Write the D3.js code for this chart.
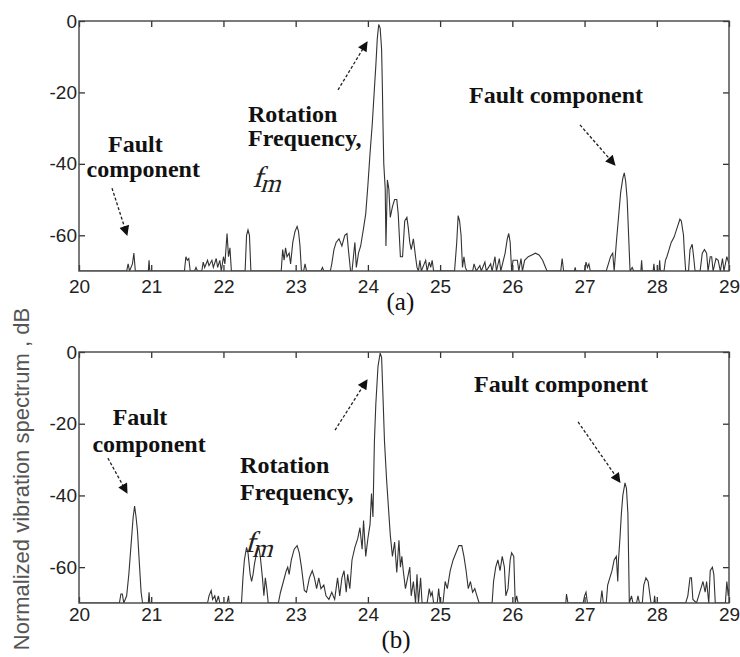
<!DOCTYPE html>
<html>
<head>
<meta charset="utf-8">
<script src="https://cdn.jsdelivr.net/npm/d3@7"></script>
<style>
  html, body { margin: 0; padding: 0; background: #fff; }
  svg { display: block; }
  .serif { font-family: "Liberation Serif", "Times New Roman", serif; }
  .sans { font-family: "Liberation Sans", Arial, sans-serif; }
</style>
</head>
<body>
<svg id="chart" width="740" height="657"></svg>
<script>
// ---------- data ----------
const xTicks = [20, 21, 22, 23, 24, 25, 26, 27, 28, 29];
const yTicks = [0, -20, -40, -60];

const freqA = [20.00,20.66,20.68,20.70,20.74,20.76,20.78,20.96,20.97,20.98,21.46,21.48,21.50,21.52,21.54,21.60,21.62,21.64,21.70,21.72,21.74,21.78,21.80,21.84,21.86,21.90,21.92,21.95,21.97,22.00,22.02,22.05,22.07,22.09,22.11,22.30,22.32,22.34,22.36,22.38,22.80,22.82,22.84,22.86,22.88,22.91,22.93,22.96,22.99,23.02,23.04,23.06,23.08,23.11,23.13,23.15,23.35,23.37,23.39,23.48,23.50,23.53,23.56,23.60,23.64,23.68,23.71,23.73,23.76,23.78,23.80,23.82,23.84,23.87,23.90,23.94,23.97,24.00,24.03,24.06,24.09,24.11,24.13,24.15,24.17,24.19,24.20,24.21,24.22,24.24,24.25,24.27,24.29,24.31,24.34,24.37,24.40,24.42,24.45,24.48,24.51,24.54,24.56,24.58,24.60,24.63,24.66,24.68,24.70,24.72,24.74,24.78,24.80,24.82,24.85,24.87,24.89,24.91,25.20,25.23,25.25,25.27,25.29,25.31,25.33,25.35,25.37,25.45,25.47,25.50,25.55,25.57,25.62,25.64,25.70,25.72,25.76,25.78,25.82,25.84,25.90,25.93,25.95,25.97,25.99,26.01,26.07,26.09,26.12,26.14,26.17,26.22,26.27,26.32,26.37,26.42,26.46,26.48,26.67,26.69,26.71,26.86,26.87,26.88,27.00,27.02,27.04,27.06,27.08,27.30,27.33,27.36,27.39,27.41,27.44,27.47,27.50,27.53,27.55,27.57,27.59,27.61,27.63,27.66,27.68,27.78,27.79,27.80,27.95,27.96,27.97,28.03,28.04,28.05,28.10,28.12,28.14,28.17,28.20,28.24,28.28,28.32,28.34,28.37,28.38,28.40,28.44,28.46,28.49,28.51,28.53,28.60,28.63,28.66,28.69,28.71,28.74,28.76,28.78,28.82,28.85,28.88,28.91,28.93,28.97,29.00];
const dbA = [-70,-70,-68,-70,-68,-65,-70,-70,-67,-70,-70,-66,-67,-66.5,-70,-70,-69,-70,-70,-67.5,-69,-67,-68.5,-67,-69,-66.5,-69,-67,-70,-66,-68,-59.5,-66,-63.5,-70,-70,-60,-58.5,-60,-70,-70,-64,-67,-63.5,-66,-65,-68,-62,-59,-57.5,-59,-63,-70,-70,-68,-70,-70,-69,-70,-70,-68,-64,-62,-61,-63,-60,-59.5,-64,-70,-70,-66,-62,-69,-65,-63,-58,-54,-46,-37,-29,-19,-12.5,-5,-1,-2,-8,-18,-30,-40,-47,-63,-44.5,-47,-55,-52,-50,-50,-54,-66,-66,-56,-55,-58,-62,-64,-61,-66,-69,-70,-67,-70,-68,-67,-70,-67.5,-69,-67,-70,-70,-62,-54.5,-56,-60,-69,-66,-69,-70,-70,-68,-70,-68.5,-70,-67.5,-70,-68,-70,-66,-70,-66.5,-70,-65,-61,-59.5,-62,-70,-67,-67,-70,-66.5,-70,-67,-66,-65.5,-65,-65.5,-67,-69,-70,-70,-66.5,-70,-70,-69,-70,-70,-67.5,-69,-68,-70,-70,-68,-66,-65,-70,-62,-55,-48,-44,-42.5,-45,-50,-60,-70,-69,-70,-70,-67,-70,-70,-68,-70,-70,-67,-70,-70,-67,-66,-64,-62,-60.5,-58,-55.5,-56,-60,-64,-70,-70,-64,-62.5,-66,-70,-70,-65,-64,-65,-70,-66,-66,-70,-66.5,-67,-70,-66.5,-70,-66,-68];

const freqB = [20.00,20.56,20.58,20.60,20.62,20.66,20.69,20.72,20.75,20.77,20.79,20.81,20.83,20.86,20.88,20.96,20.97,20.98,21.78,21.80,21.83,21.85,21.88,21.90,21.93,21.95,22.05,22.07,22.08,22.25,22.27,22.29,22.32,22.34,22.37,22.39,22.41,22.43,22.46,22.49,22.51,22.54,22.56,22.58,22.60,22.62,22.76,22.79,22.83,22.87,22.89,22.91,22.94,22.98,23.02,23.05,23.08,23.12,23.15,23.19,23.23,23.26,23.29,23.32,23.35,23.39,23.42,23.46,23.50,23.54,23.58,23.61,23.64,23.67,23.70,23.72,23.75,23.78,23.82,23.86,23.89,23.92,23.94,23.97,24.00,24.03,24.05,24.07,24.09,24.11,24.14,24.17,24.19,24.21,24.23,24.26,24.29,24.31,24.34,24.37,24.40,24.43,24.45,24.47,24.49,24.52,24.55,24.58,24.60,24.63,24.66,24.68,24.70,24.73,24.75,24.82,24.85,24.87,24.89,24.91,24.96,24.98,25.00,25.04,25.07,25.10,25.14,25.18,25.22,25.26,25.30,25.33,25.36,25.39,25.42,25.45,25.48,25.51,25.54,25.72,25.74,25.77,25.80,25.83,25.86,25.89,25.91,25.94,25.97,25.99,26.02,26.04,26.06,26.08,26.74,26.75,26.77,26.98,27.00,27.02,27.04,27.22,27.24,27.26,27.30,27.32,27.35,27.38,27.41,27.44,27.46,27.47,27.49,27.51,27.53,27.56,27.58,27.60,27.62,27.65,27.67,27.72,27.74,27.76,27.80,27.82,27.85,27.88,27.90,27.92,27.96,27.97,27.98,28.40,28.43,28.46,28.48,28.50,28.55,28.58,28.61,28.64,28.67,28.69,28.72,28.74,28.77,28.79,28.81,28.95,28.97,28.99,29.00];
const dbB = [-70,-70,-67.5,-67.5,-70,-68,-62,-54,-46,-43,-46,-50,-57,-67,-70,-70,-67,-70,-70,-68,-66.5,-69,-68,-70,-68,-70,-70,-68,-70,-70,-63,-58,-54.5,-56,-62,-64,-62,-59,-56,-54.5,-57,-63,-68,-63,-66,-70,-70,-67,-64,-61,-60,-62,-58,-55,-54,-56,-60,-66.5,-67,-63,-61,-63,-66,-63,-66,-65,-68,-69,-67,-69,-63,-68,-63,-61,-67,-62,-66,-58,-54.5,-52,-49,-55,-47,-57,-52,-48,-39.5,-46,-25,-14.5,-4,-0.3,-1.5,-13,-25,-36,-45,-51,-57,-53,-61.5,-52.5,-60,-57,-61,-66,-63,-60,-68,-64,-70,-62,-70,-63,-70,-70,-66,-68,-67,-70,-70,-66,-70,-70,-64,-66,-61,-58,-56,-54,-54,-57,-61,-66,-64,-67,-66,-68,-70,-70,-64,-60,-58,-61,-57,-60,-68,-66,-58,-56,-57,-70,-68,-70,-70,-67.5,-70,-70,-68,-67,-70,-70,-66.5,-70,-70,-65,-63,-61,-58,-57,-64,-58,-52,-45,-40,-36.5,-38,-45,-70,-68,-70,-70,-68,-70,-70,-65,-63,-64,-67,-70,-70,-68,-70,-70,-68,-63,-63,-69,-70,-68,-66,-64,-67,-64,-70,-61,-60,-62,-70,-70,-64,-68,-66];

const panelLabels = ["(a)", "(b)"];
const yAxisTitle = "Normalized vibration spectrum , dB";

// ---------- layout ----------
const svg = d3.select("#chart");
const L = 79, R = 729;
const panels = [
  { top: 21, bottom: 271, freq: freqA, db: dbA, label: panelLabels[0], labelX: 24.45, labelY: 310, tickPad: 9,
    ann: [
      { lines: [["Fault", 20.78, -36.7], ["component", 20.89, -43.7]], anchor: "middle" },
      { lines: [["Rotation", 22.34, -28.3], ["Frequency,", 22.34, -35.0]], anchor: "start", fm: [22.40, -46.5] },
      { lines: [["Fault component", 26.605, -23.0]], anchor: "middle" }
    ],
    arrows: [[20.457, -46.8, 20.665, -59.9], [23.586, -19.3, 23.988, -5.9], [26.937, -29.1, 27.42, -40.3]]
  },
  { top: 352, bottom: 603, freq: freqB, db: dbB, label: panelLabels[1], labelX: 24.39, labelY: 648, tickPad: 5,
    ann: [
      { lines: [["Fault", 20.845, -20.4], ["component", 20.97, -27.9]], anchor: "middle" },
      { lines: [["Rotation", 22.23, -33.7], ["Frequency,", 22.23, -41.3]], anchor: "start", fm: [22.29, -55.8] },
      { lines: [["Fault component", 26.674, -11.2]], anchor: "middle" }
    ],
    arrows: [[20.40, -29.6, 20.665, -39.3], [23.545, -21.8, 23.988, -7.8], [26.91, -19.5, 27.49, -36.3]]
  }
];

const x = d3.scaleLinear().domain([20, 29]).range([L, R]);

const defs = svg.append("defs");
defs.append("marker")
  .attr("id", "ah").attr("viewBox", "0 0 10 10")
  .attr("refX", 9).attr("refY", 5)
  .attr("markerWidth", 13).attr("markerHeight", 10)
  .attr("markerUnits", "userSpaceOnUse")
  .attr("orient", "auto")
  .append("path").attr("d", "M0,0 L10,5 L0,10 Z").attr("fill", "#111");

panels.forEach((p, i) => {
  const y = d3.scaleLinear().domain([-70, 0]).range([p.bottom, p.top]);
  const g = svg.append("g");

  defs.append("clipPath").attr("id", "clip" + i)
    .append("rect").attr("x", L).attr("y", p.top - 1).attr("width", R - L).attr("height", p.bottom - p.top + 1);

  // spectrum line
  const pts = p.freq.map((f, k) => [f, p.db[k]]);
  g.append("path")
    .datum(pts)
    .attr("clip-path", `url(#clip${i})`)
    .attr("fill", "none")
    .attr("stroke", "#333")
    .attr("stroke-width", 1.1)
    .attr("d", d3.line().x(d => x(d[0])).y(d => y(Math.max(-70, d[1]))));

  // axes
  const fmt = d => String(d);
  const ax = g.append("g").attr("transform", `translate(0,${p.bottom})`)
    .call(d3.axisBottom(x).tickValues(xTicks).tickSize(-6).tickPadding(p.tickPad).tickFormat(fmt));
  const axT = g.append("g").attr("transform", `translate(0,${p.top})`)
    .call(d3.axisTop(x).tickValues(xTicks).tickSize(-6).tickFormat(""));
  const ay = g.append("g").attr("transform", `translate(${L},0)`)
    .call(d3.axisLeft(y).tickValues(yTicks).tickSize(-6).tickPadding(2).tickFormat(fmt));
  const ayR = g.append("g").attr("transform", `translate(${R},0)`)
    .call(d3.axisRight(y).tickValues(yTicks).tickSize(-6).tickFormat(""));
  [ax, axT, ay, ayR].forEach(a => {
    a.attr("font-family", null).attr("font-size", null);
    a.select(".domain").remove();
    a.selectAll(".tick line").attr("stroke", "#333").attr("stroke-width", 1.3);
    a.selectAll(".tick text")
      .attr("class", "sans")
      .attr("font-size", 19).attr("fill", "#222");
  });

  // frame
  g.append("rect").attr("x", L).attr("y", p.top).attr("width", R - L).attr("height", p.bottom - p.top)
    .attr("fill", "none").attr("stroke", "#444").attr("stroke-width", 1.4);

  // annotations
  p.ann.forEach(a => {
    a.lines.forEach(([t, fx, fy]) => {
      g.append("text").attr("x", x(fx)).attr("y", y(fy))
        .attr("class", "serif")
        .attr("text-anchor", a.anchor)
        .attr("font-weight", "bold").attr("font-size", 24).attr("fill", "#111")
        .text(t);
    });
    if (a.fm) {
      // italic look produced by skewing the serif glyphs
      const t = g.append("text")
        .attr("transform", `translate(${x(a.fm[0])},${y(a.fm[1])}) skewX(-16)`)
        .attr("class", "serif").attr("fill", "#222");
      t.append("tspan").attr("font-size", 30).text("f");
      t.append("tspan").attr("font-size", 26).attr("dy", 5).attr("dx", -1).text("m");
    }
  });
  p.arrows.forEach(([x1, y1, x2, y2]) => {
    g.append("line")
      .attr("x1", x(x1)).attr("y1", y(y1)).attr("x2", x(x2)).attr("y2", y(y2))
      .attr("stroke", "#222").attr("stroke-width", 1.3)
      .attr("stroke-dasharray", "3,2")
      .attr("marker-end", "url(#ah)");
  });

  // panel label
  svg.append("text").attr("x", x(p.labelX)).attr("y", p.labelY)
    .attr("class", "serif")
    .attr("text-anchor", "middle")
    .attr("font-size", 25).attr("fill", "#111")
    .text(p.label);
});

// y-axis title
svg.append("text")
  .attr("class", "sans")
  .attr("transform", `translate(29,479) rotate(-90)`)
  .attr("text-anchor", "middle")
  .attr("font-size", 22).attr("fill", "#555")
  .text(yAxisTitle);
</script>
</body>
</html>
